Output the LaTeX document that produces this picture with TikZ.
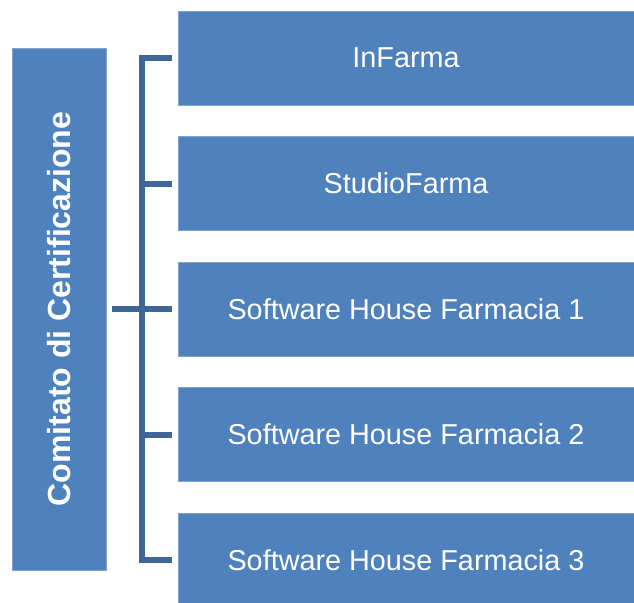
\documentclass[tikz,border=0pt]{standalone}
\usepackage{fontspec}
\setmainfont{Liberation Sans}
\usetikzlibrary{positioning}
\definecolor{boxblue}{HTML}{4F81BD}
\definecolor{boxedge}{HTML}{7FA2D0}
\definecolor{treeblue}{HTML}{3E6696}
\tikzset{
  member/.style={draw=boxedge, line width=0.6pt, fill=boxblue, text=white, inner sep=0pt, outer sep=0pt,
    minimum width=456pt, minimum height=94pt, font=\fontsize{28.8}{34}\selectfont},
  board/.style={draw=boxedge, line width=0.6pt, fill=boxblue, text=white, inner sep=0pt, outer sep=0pt,
    minimum width=94pt, minimum height=522pt},
  tree/.style={draw=treeblue, line width=6pt}
}
\begin{document}
\begin{tikzpicture}[x=1pt, y=-1pt]
        \useasboundingbox (0,0) rectangle (634,602);
        \node[board] (comitato) at (59,309) {};
        \node[rotate=90, text=white, font=\bfseries\fontsize{32}{38}\selectfont] (titolo) at (comitato.center) {Comitato di Certificazione};
        \node[member] (infarma) at (406,58) {InFarma};
        \node[member, below=31.5pt of infarma] (studio) {StudioFarma};
        \node[member, below=31.5pt of studio] (sh1) {Software House Farmacia 1};
        \node[member, below=31.5pt of sh1] (sh2) {Software House Farmacia 2};
        \node[member, below=31.5pt of sh2] (sh3) {Software House Farmacia 3};
        \coordinate (bus) at (142,309);
        % bracket
        \draw[tree] ([xshift=-6pt]infarma.west) -| (bus) |- ([xshift=-6pt]sh3.west);
        \draw[tree] ([xshift=6pt]comitato.east) -- ([xshift=-6pt]sh1.west);
        \draw[tree] (bus |- studio.west) -- ([xshift=-6pt]studio.west);
        \draw[tree] (bus |- sh2.west) -- ([xshift=-6pt]sh2.west);
\end{tikzpicture}
\end{document}
